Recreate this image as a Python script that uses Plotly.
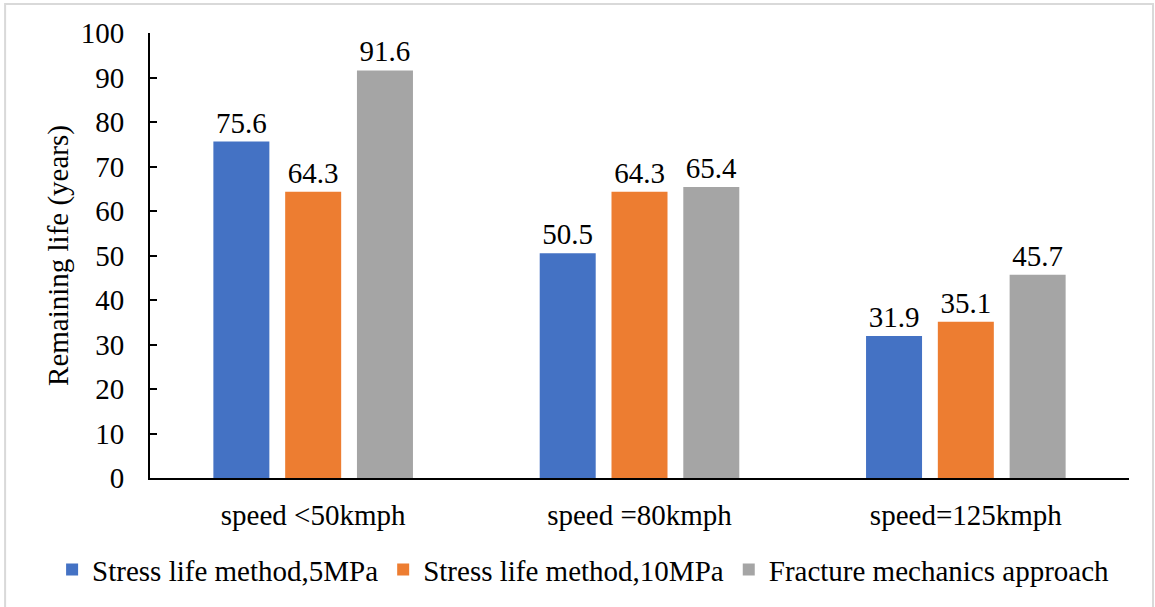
import plotly.graph_objects as go

categories = ["speed <50kmph", "speed =80kmph", "speed=125kmph"]
series_names = ["Stress life method,5MPa", "Stress life method,10MPa", "Fracture mechanics approach"]
stress_5mpa = [75.6, 50.5, 31.9]
stress_10mpa = [64.3, 64.3, 35.1]
fracture = [91.6, 65.4, 45.7]
colors = ["#4472C4", "#ED7D31", "#A5A5A5"]

FONT = "Liberation Serif"
FS = 29

fig = go.Figure()
for name, vals, col in zip(series_names, [stress_5mpa, stress_10mpa, fracture], colors):
    fig.add_trace(go.Bar(
        x=categories, y=vals, name=name,
        marker=dict(color=col, line=dict(width=0)),
        text=[f"{v:.1f}" for v in vals],
        textposition="outside",
        textfont=dict(family=FONT, size=FS, color="black"),
        cliponaxis=False,
    ))

fig.update_layout(
    width=1155, height=607,
    margin=dict(l=150, r=26, t=33, b=129),
    paper_bgcolor="white", plot_bgcolor="white",
    font=dict(family=FONT, size=FS, color="black"),
    barmode="group",
    bargap=0.34,
    bargroupgap=0.22,
    showlegend=True,
    legend=dict(
        orientation="h",
        xref="paper", yref="paper",
        x=-0.1, xanchor="left",
        y=-0.206, yanchor="middle",
        font=dict(family=FONT, size=FS, color="black"),
        itemwidth=30,
        tracegroupgap=0,
    ),
    xaxis=dict(
        showline=True, linecolor="black", linewidth=2,
        ticks="", showgrid=False,
        tickfont=dict(family=FONT, size=FS),
        ticklabelstandoff=10,
    ),
    yaxis=dict(
        range=[0, 100], dtick=10,
        showline=True, linecolor="black", linewidth=2,
        ticks="inside", ticklen=7, tickwidth=2, tickcolor="black",
        showgrid=False, zeroline=False,
        tickfont=dict(family=FONT, size=FS),
        ticklabelstandoff=18,
        title=dict(text="Remaining life (years)", font=dict(family=FONT, size=FS), standoff=4),
    ),
    shapes=[dict(
        type="rect", xref="paper", yref="paper",
        x0=-0.148, x1=1.0245, y0=-0.31, y1=1.065,
        line=dict(color="#D9D9D9", width=2), fillcolor="rgba(0,0,0,0)", layer="below",
    )],
)

fig.write_html("out.html")
